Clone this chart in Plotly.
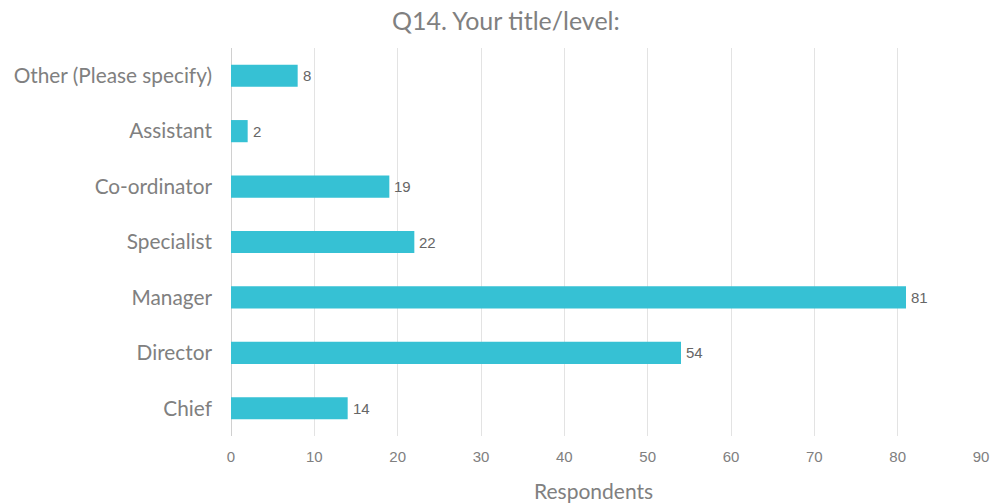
import plotly.graph_objects as go

categories = ["Chief", "Director", "Manager", "Specialist", "Co-ordinator", "Assistant", "Other (Please specify)"]
respondents = [14, 54, 81, 22, 19, 2, 8]
x_ticks = [0, 10, 20, 30, 40, 50, 60, 70, 80, 90]

fig = go.Figure(
    go.Bar(
        x=respondents,
        y=categories,
        orientation="h",
        width=0.4,
        marker=dict(color="#36C1D4", line=dict(width=0)),
        hoverinfo="x+y",
    )
)

# value labels just past the end of each bar
value_labels = [
    dict(
        x=v,
        y=c,
        xref="x",
        yref="y",
        text=str(v),
        xanchor="left",
        yanchor="middle",
        xshift=3,
        showarrow=False,
        font=dict(family="Liberation Sans, Arial, sans-serif", size=15, color="#666666"),
    )
    for c, v in zip(categories, respondents)
]

axis_title = dict(
    text="Respondents",
    xref="paper",
    yref="paper",
    x=(593 - 231) / 750,
    y=-(490 - 436) / 388,
    xanchor="center",
    yanchor="middle",
    showarrow=False,
    font=dict(family="Lato, sans-serif", size=21, color="#808080"),
)

fig.update_layout(
    width=990,
    height=503,
    margin=dict(l=231, r=9, t=48, b=67, autoexpand=False),
    paper_bgcolor="white",
    plot_bgcolor="white",
    showlegend=False,
    title=dict(
        text="Q14. Your title/level:",
        x=0.511,
        xanchor="center",
        y=0.958,
        yanchor="middle",
        font=dict(family="Lato, sans-serif", size=25, color="#808080"),
    ),
    xaxis=dict(
        range=[0, 90],
        tickvals=x_ticks,
        ticktext=[str(t) for t in x_ticks],
        showgrid=True,
        gridcolor="#e3e3e3",
        gridwidth=1,
        zeroline=True,
        zerolinecolor="#d0d0d0",
        zerolinewidth=1,
        ticks="",
        automargin=False,
        ticklabelstandoff=10,
        tickfont=dict(family="Liberation Sans, Arial, sans-serif", size=15, color="#808080"),
        fixedrange=True,
    ),
    yaxis=dict(
        range=[-0.5, 6.5],
        showgrid=False,
        ticks="",
        automargin=False,
        ticklabelstandoff=18,
        tickfont=dict(family="Lato, sans-serif", size=20.8, color="#808080"),
        fixedrange=True,
    ),
    annotations=value_labels + [axis_title],
)

fig.write_html("out.html")
